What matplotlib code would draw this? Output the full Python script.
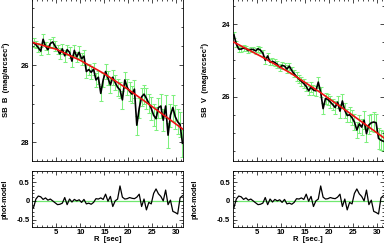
import numpy as np
import matplotlib
matplotlib.use("Agg")
import matplotlib.pyplot as plt
from matplotlib.ticker import MultipleLocator, FixedLocator

# radius grid [sec]
R = [0.25, 0.75, 1.25, 1.75, 2.25, 2.75, 3.25, 3.75, 4.25, 4.75,
     5.25, 5.75, 6.25, 6.75, 7.25, 7.75, 8.25, 8.75, 9.25, 9.75,
     10.25, 10.75, 11.25, 11.75, 12.25, 12.75, 13.25, 13.75, 14.25, 14.75,
     15.25, 15.75, 16.25, 16.75, 17.25, 17.75, 18.25, 18.75, 19.25, 19.75,
     20.25, 20.75, 21.25, 21.75, 22.25, 22.75, 23.25, 23.75, 24.25, 24.75,
     25.25, 25.75, 26.25, 26.75, 27.25, 27.75, 28.25, 28.75, 29.25, 29.75,
     30.25, 30.75, 31.25]

# B band photometry
sb_B = [25.41, 25.46, 25.54, 25.63, 25.32, 25.50, 25.59, 25.43, 25.39, 25.50,
        25.59, 25.70, 25.57, 25.75, 25.59, 25.66, 25.89, 25.61, 25.78, 25.66,
        25.83, 25.76, 26.16, 26.11, 26.18, 26.10, 26.38, 26.31, 26.73, 26.38,
        26.16, 26.33, 26.51, 26.31, 26.45, 26.57, 26.64, 26.90, 26.38, 26.57,
        26.68, 26.75, 26.62, 27.56, 27.12, 26.82, 26.75, 26.86, 26.99, 27.12,
        27.30, 27.39, 27.10, 27.06, 27.43, 27.06, 27.82, 27.30, 27.10, 27.34,
        27.47, 27.54, 28.03]
err_B = [0.12, 0.10, 0.12, 0.11, 0.13, 0.10, 0.12, 0.11, 0.12, 0.13,
         0.12, 0.14, 0.13, 0.15, 0.13, 0.14, 0.16, 0.15, 0.14, 0.16,
         0.15, 0.17, 0.16, 0.15, 0.17, 0.16, 0.18, 0.17, 0.20, 0.18,
         0.20, 0.18, 0.21, 0.19, 0.20, 0.22, 0.20, 0.24, 0.22, 0.21,
         0.25, 0.22, 0.24, 0.25, 0.26, 0.24, 0.25, 0.27, 0.25, 0.30,
         0.28, 0.30, 0.26, 0.32, 0.28, 0.30, 0.33, 0.30, 0.34, 0.31,
         0.33, 0.32, 0.35]
model_B_R = [0.25, 5, 10, 15, 20, 25, 31.3]
model_B = [25.41, 25.58, 25.87, 26.22, 26.63, 27.08, 27.66]

# V band photometry
sb_V = [24.30, 24.55, 24.69, 24.69, 24.66, 24.68, 24.73, 24.70, 24.70, 24.74,
        24.68, 24.72, 24.80, 25.00, 24.88, 25.05, 25.03, 25.06, 25.11, 25.20,
        25.14, 25.16, 25.24, 25.16, 25.28, 25.37, 25.45, 25.52, 25.58, 25.64,
        25.72, 25.84, 25.74, 25.82, 25.84, 25.60, 25.88, 26.33, 26.05, 26.08,
        26.15, 26.22, 26.30, 26.15, 26.40, 26.12, 26.38, 26.52, 26.50, 26.58,
        26.70, 26.92, 26.75, 26.84, 26.65, 27.02, 26.78, 26.72, 26.70, 26.72,
        27.15, 27.20, 27.23]
err_V = [0.08, 0.07, 0.08, 0.07, 0.08, 0.07, 0.08, 0.07, 0.08, 0.08,
         0.08, 0.09, 0.08, 0.09, 0.09, 0.08, 0.09, 0.10, 0.09, 0.10,
         0.10, 0.09, 0.11, 0.10, 0.11, 0.10, 0.12, 0.11, 0.12, 0.12,
         0.13, 0.12, 0.14, 0.13, 0.14, 0.15, 0.14, 0.16, 0.15, 0.16,
         0.17, 0.16, 0.18, 0.17, 0.19, 0.18, 0.20, 0.19, 0.21, 0.20,
         0.22, 0.21, 0.24, 0.22, 0.25, 0.23, 0.26, 0.24, 0.27, 0.25,
         0.28, 0.27, 0.28]
model_V_R = [0.25, 6, 12, 18, 24, 31.3]
model_V = [24.50, 24.90, 25.35, 25.87, 26.43, 27.13]

# phot - model
resid = [-0.18, 0.05, 0.13, 0.11, 0.04, 0.08, 0.02, 0.05, 0.00, -0.05,
         -0.10, -0.09, -0.06, 0.09, -0.10, 0.05, -0.03, 0.04, 0.00, 0.03,
         -0.04, 0.04, -0.08, -0.06, -0.09, -0.04, 0.06, 0.05, 0.08, 0.04,
         0.18, -0.01, 0.12, -0.15, 0.00, 0.05, 0.40, 0.10, 0.05, 0.06,
         0.09, 0.07, 0.06, 0.10, 0.18, -0.15, 0.05, -0.24, -0.04, -0.08,
         0.20, 0.32, 0.19, 0.12, 0.00, 0.29, -0.10, 0.02, -0.28, -0.31,
         -0.35, 0.08, 0.14]

plt.rcParams["font.family"] = ["Liberation Sans", "DejaVu Sans"]
plt.rcParams["font.weight"] = "bold"
plt.rcParams["font.size"] = 5.5

GREEN = "#7df07d"
ZERO = "#70e870"
W, H = 384, 250


def box(x0, y0, x1, y1):
    # pixel box (top-left origin) -> figure fraction
    return [x0 / W, 1 - y1 / H, (x1 - x0) / W, (y1 - y0) / H]


def style(ax, xlabels):
    ax.set_xlim(0, 31.3)
    ax.xaxis.set_major_locator(FixedLocator([5, 10, 15, 20, 25, 30]))
    ax.xaxis.set_minor_locator(MultipleLocator(1))
    ax.tick_params(which="both", direction="in", top=True, right=True,
                   width=0.5, labelsize=5.5, pad=2)
    ax.tick_params(which="major", length=2.6)
    ax.tick_params(which="minor", length=1.4)
    if not xlabels:
        ax.tick_params(labelbottom=False)
    for s in ax.spines.values():
        s.set_linewidth(0.6)
    for lab in ax.get_xticklabels() + ax.get_yticklabels():
        lab.set_fontweight("bold")


fig = plt.figure(figsize=(W / 100, H / 100), dpi=100)

panels = [
    (32.3, 182.7, sb_B, err_B, model_B_R, model_B, (28.48, 24.27), "SB  B  (mag/arcsec²)", -0.146, "R  [sec]", -0.16),
    (232.7, 383.6, sb_V, err_V, model_V_R, model_V, (27.76, 23.31), "SB  V  (mag/arcsec²)", -0.155, "R  [sec.]", -0.225),
]

for x0, x1, sb, err, mR, mv, ylim, ylab, ylx, xlab, rlx in panels:
    ax = fig.add_axes(box(x0, -1, x1, 160.5))
    ax.errorbar(R, sb, yerr=err, fmt="none", ecolor=GREEN, elinewidth=0.75,
                capsize=1.6, capthick=0.75, zorder=1)
    ax.plot(R, sb, color="black", lw=1.2, zorder=2)
    ax.plot(mR, mv, color="#ee1111", lw=1.2, zorder=3)
    ax.set_ylim(*ylim)
    ax.yaxis.set_major_locator(MultipleLocator(2))
    ax.yaxis.set_minor_locator(MultipleLocator(0.5))
    style(ax, False)
    ax.set_ylabel(ylab, fontsize=5.5, fontweight="bold")
    ax.yaxis.set_label_coords(ylx, 0.5)

    ar = fig.add_axes(box(x0, 171, x1, 226.7))
    ar.axhline(0, color=ZERO, lw=0.9, zorder=1)
    ar.plot(R, resid, color="black", lw=0.9, zorder=2)
    ar.set_ylim(-0.69, 0.80)
    ar.yaxis.set_minor_locator(MultipleLocator(0.1))
    ar.set_yticks([-0.5, 0, 0.5])
    ar.set_yticklabels(["-0.5", "0", "0.5"])
    style(ar, True)
    ar.set_xlabel(xlab, fontsize=5.5, fontweight="bold", labelpad=0)
    ar.set_ylabel("phot-model", fontsize=5.2, fontweight="bold")
    ar.yaxis.set_label_coords(rlx, 0.5)

fig.savefig("out.png", dpi=100)
